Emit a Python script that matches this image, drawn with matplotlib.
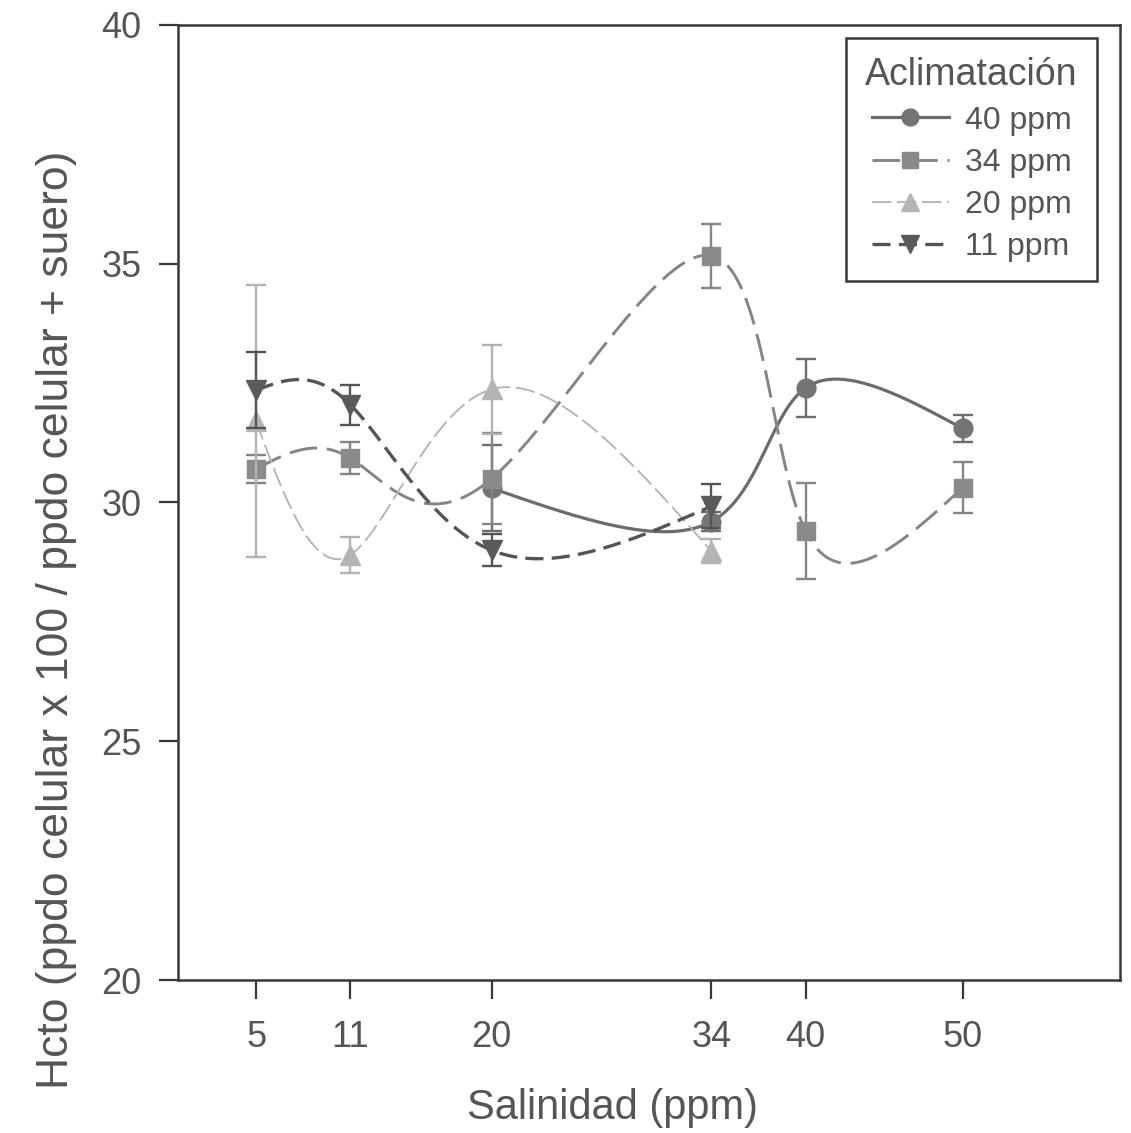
import numpy as np
import matplotlib
matplotlib.use("Agg")
import matplotlib.pyplot as plt
from matplotlib.lines import Line2D

plt.rcParams["font.family"] = ["Liberation Sans", "DejaVu Sans"]
plt.rcParams["lines.scale_dashes"] = False

# Salinity ticks (ppm)
salinity_ticks = [5, 11, 20, 34, 40, 50]

# Hematocrit means and error for each acclimation group
x_40 = [20, 34, 40, 50]
y_40 = [30.3, 29.6, 32.4, 31.55]
e_40 = [0.9, 0.2, 0.6, 0.28]

x_34 = [5, 11, 20, 34, 40, 50]
y_34 = [30.7, 30.93, 30.5, 35.17, 29.4, 30.31]
e_34 = [0.3, 0.33, 0.95, 0.67, 1.0, 0.53]

x_20 = [5, 11, 20, 34]
y_20 = [31.7, 28.9, 32.37, 28.98]
e_20 = [2.85, 0.37, 0.93, 0.25]

x_11 = [5, 11, 20, 34]
y_11 = [32.35, 32.05, 29.0, 29.92]
e_11 = [0.8, 0.42, 0.33, 0.46]

labels = ["40 ppm", "34 ppm", "20 ppm", "11 ppm"]


def natural_coeffs(v):
    """Natural cubic spline coefficients over a uniform unit parameter."""
    v = np.asarray(v, float)
    n = len(v)
    A = np.zeros((n, n))
    r = np.zeros(n)
    A[0, 0] = 1.0
    A[-1, -1] = 1.0
    for i in range(1, n - 1):
        A[i, i - 1] = 1.0
        A[i, i] = 4.0
        A[i, i + 1] = 1.0
        r[i] = 3 * ((v[i + 1] - v[i]) - (v[i] - v[i - 1]))
    c = np.linalg.solve(A, r)
    b = (v[1:] - v[:-1]) - (2 * c[:-1] + c[1:]) / 3
    d = (c[1:] - c[:-1]) / 3
    return v, b, c, d


def spline_curve(xs, ys, per_seg=120):
    """Smooth parametric spline through the points (parameter = point index)."""
    n = len(xs)
    t = np.linspace(0, n - 1, per_seg * (n - 1) + 1)
    idx = np.clip(np.floor(t).astype(int), 0, n - 2)
    u = t - idx
    out = []
    for v in (xs, ys):
        a, b, c, d = natural_coeffs(v)
        out.append(a[idx] + b[idx] * u + c[idx] * u ** 2 + d[idx] * u ** 3)
    return out[0], out[1]


fig = plt.figure(figsize=(11.31, 11.33), dpi=100)
ax = fig.add_axes([0.157, 0.135, 0.833, 0.843])

text_col = "#555555"
spine_col = "#383838"

series = [
    dict(x=x_40, y=y_40, e=e_40, color="#6c6c6c", mcolor="#747474", marker="o",
         ms=13.5, lw=2.3, dashes=None, z=3),
    dict(x=x_34, y=y_34, e=e_34, color="#858585", mcolor="#8a8a8a", marker="s",
         ms=12.5, lw=2.1, dashes=(20, 7), z=4),
    dict(x=x_20, y=y_20, e=e_20, color="#b2b2b2", mcolor="#b4b4b4", marker="^",
         ms=14, lw=1.3, dashes=(14, 4), z=5),
    dict(x=x_11, y=y_11, e=e_11, color="#555555", mcolor="#5a5a5a", marker="v",
         ms=14, lw=2.4, dashes=(13, 6), z=6),
]

handles = []
for s in series:
    xx, yy = spline_curve(s["x"], s["y"])
    kw = {}
    if s["dashes"] is not None:
        kw["dashes"] = s["dashes"]
    ax.plot(xx, yy, color=s["color"], lw=s["lw"], zorder=s["z"], **kw)
    ax.errorbar(s["x"], s["y"], yerr=s["e"], fmt="none", ecolor=s["color"],
                elinewidth=1.7, capsize=7, capthick=1.7, zorder=s["z"])
    ax.plot(s["x"], s["y"], linestyle="none", marker=s["marker"], ms=s["ms"],
            mfc=s["mcolor"], mec=s["mcolor"], zorder=s["z"] + 0.5)
    handles.append(Line2D([], [], color=s["color"], lw=s["lw"], marker=s["marker"],
                          ms=s["ms"] * 0.9, mfc=s["mcolor"], mec=s["mcolor"], **kw))

ax.set_xlim(0, 60)
ax.set_ylim(20, 40)
ax.set_xticks(salinity_ticks)
ax.set_xticklabels([str(v) for v in salinity_ticks])
ax.set_yticks([20, 25, 30, 35, 40])

for sp in ax.spines.values():
    sp.set_color(spine_col)
    sp.set_linewidth(1.8)

ax.tick_params(axis="both", direction="out", length=14, width=1.6, color=spine_col,
               labelsize=26, labelcolor=text_col)
ax.tick_params(axis="x", pad=15)
ax.tick_params(axis="y", pad=12)

ax.set_xlabel("Salinidad (ppm)", fontsize=30, color=text_col)
ax.set_ylabel("Hcto (ppdo celular x 100 / ppdo celular + suero)", fontsize=32,
              color=text_col)
ax.xaxis.set_label_coords(0.462, -0.113)
ax.yaxis.set_label_coords(-0.107, 0.377)

leg = ax.legend(handles, labels, title="Aclimatación", loc="upper right",
                bbox_to_anchor=(0.976, 0.986), borderaxespad=0, fontsize=23,
                title_fontsize=27, frameon=True, fancybox=False, framealpha=1,
                handlelength=2.4, handletextpad=0.5, labelspacing=0.38,
                borderpad=0.6)
leg.get_frame().set_edgecolor(spine_col)
leg.get_frame().set_linewidth(1.8)
leg.get_title().set_color(text_col)
for t in leg.get_texts():
    t.set_color(text_col)

fig.savefig("out.png", dpi=100, facecolor="white")
